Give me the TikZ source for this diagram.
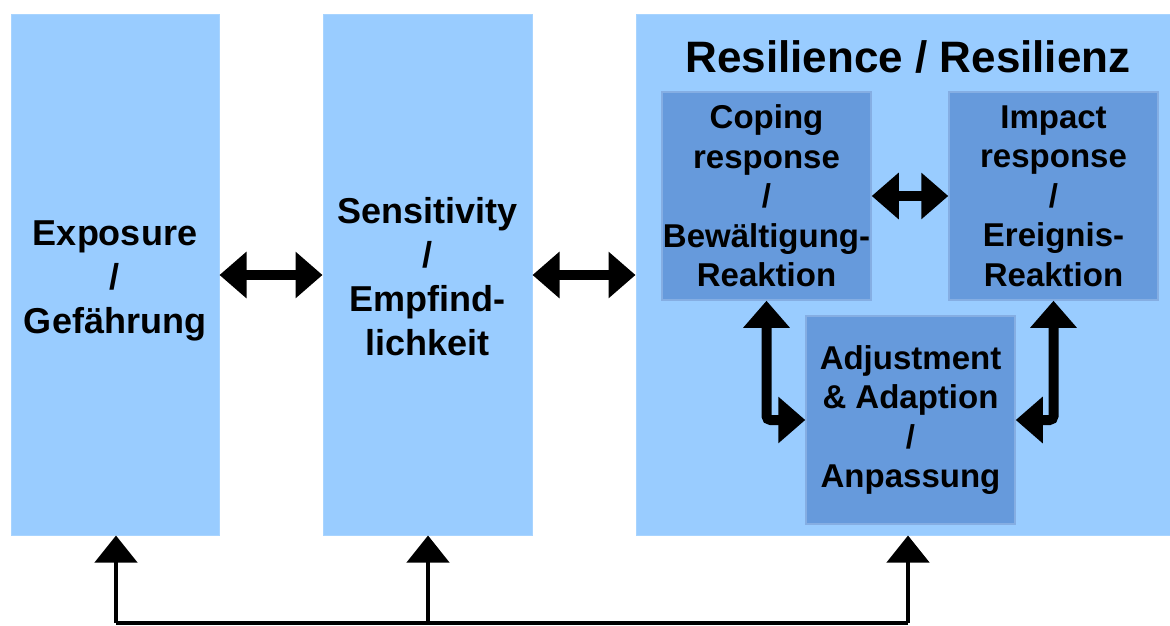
\documentclass[tikz,border=0pt]{standalone}
\usepackage{fontspec}
\setmainfont{Liberation Sans}
\usetikzlibrary{arrows.meta,calc}
\definecolor{outerblue}{RGB}{153,204,255}
\definecolor{innerblue}{RGB}{102,154,220}

\begin{document}
\begin{tikzpicture}[x=1pt,y=1pt,
  outerbox/.style={fill=outerblue, draw=outerblue!85!white, line width=1pt,
    inner sep=0pt, align=center, font=\fontsize{36}{44}\selectfont\bfseries},
  boxtext/.style={inner sep=0pt, align=center, font=\fontsize{36}{44}\selectfont\bfseries},
  innerbox/.style={fill=innerblue, draw=innerblue!80!white, line width=1.5pt,
    minimum width=209pt, minimum height=208pt, inner sep=0pt, align=center,
    font=\fontsize{33}{39.5}\selectfont\bfseries},
  bigarrow/.style={line width=10pt, rounded corners=4pt, {Triangle[length=27pt,width=45pt]}-{Triangle[length=27pt,width=45pt]}},
  feedarrow/.style={line width=4.5pt, -{Triangle[length=27pt,width=42pt]}},
  feedline/.style={line width=3.5pt, line cap=square}]

\useasboundingbox (0,0) rectangle (1170,-626);

% three main boxes
\node[outerbox, minimum width=208pt, minimum height=520pt] (expo) at (115,-275) {};
\node[boxtext] (expotext) at (115,-281) {Exposure\\/\\Gefährung};
\node[outerbox, minimum width=209pt, minimum height=520pt] (sens) at (427.5,-275) {};
\node[boxtext] (senstext) at (427.5,-277) {Sensitivity\\/\\Empfind-\\lichkeit};
\node[outerbox, minimum width=534pt, minimum height=520pt] (res) at (903,-275) {};
\node[font=\fontsize{44}{48}\selectfont\bfseries, inner sep=0pt] (title) at (908,-57)
  {Resilience / Resilienz};

% components of resilience
\node[innerbox] (coping) at (766.5,-196)
  {Coping\\response\\/\\Bewältigung-\\Reaktion};
\node[innerbox] (impact) at (1053.5,-196)
  {Impact\\response\\/\\Ereignis-\\Reaktion};
\node[innerbox] (adjust) at (910.5,-420)
  {Adjustment\\\& Adaption\\/\\Anpassung};

% interactions
\draw[bigarrow] (expo.east) -- (sens.west);
\draw[bigarrow] (sens.east) -- (res.west);
\draw[bigarrow] (coping.east) -- (impact.west);
\draw[bigarrow] (coping.south) |- (adjust.west);
\draw[bigarrow] (impact.south) |- (adjust.east);

% feedback line along the bottom
\coordinate (b1) at (116,-623);
\coordinate (b2) at (428,-623);
\coordinate (b3) at (908,-623);
\draw[feedline] (b1) -- (b3);
\draw[feedarrow] (b1) -- (b1 |- expo.south);
\draw[feedarrow] (b2) -- (b2 |- sens.south);
\draw[feedarrow] (b3) -- (b3 |- res.south);

\end{tikzpicture}
\end{document}
